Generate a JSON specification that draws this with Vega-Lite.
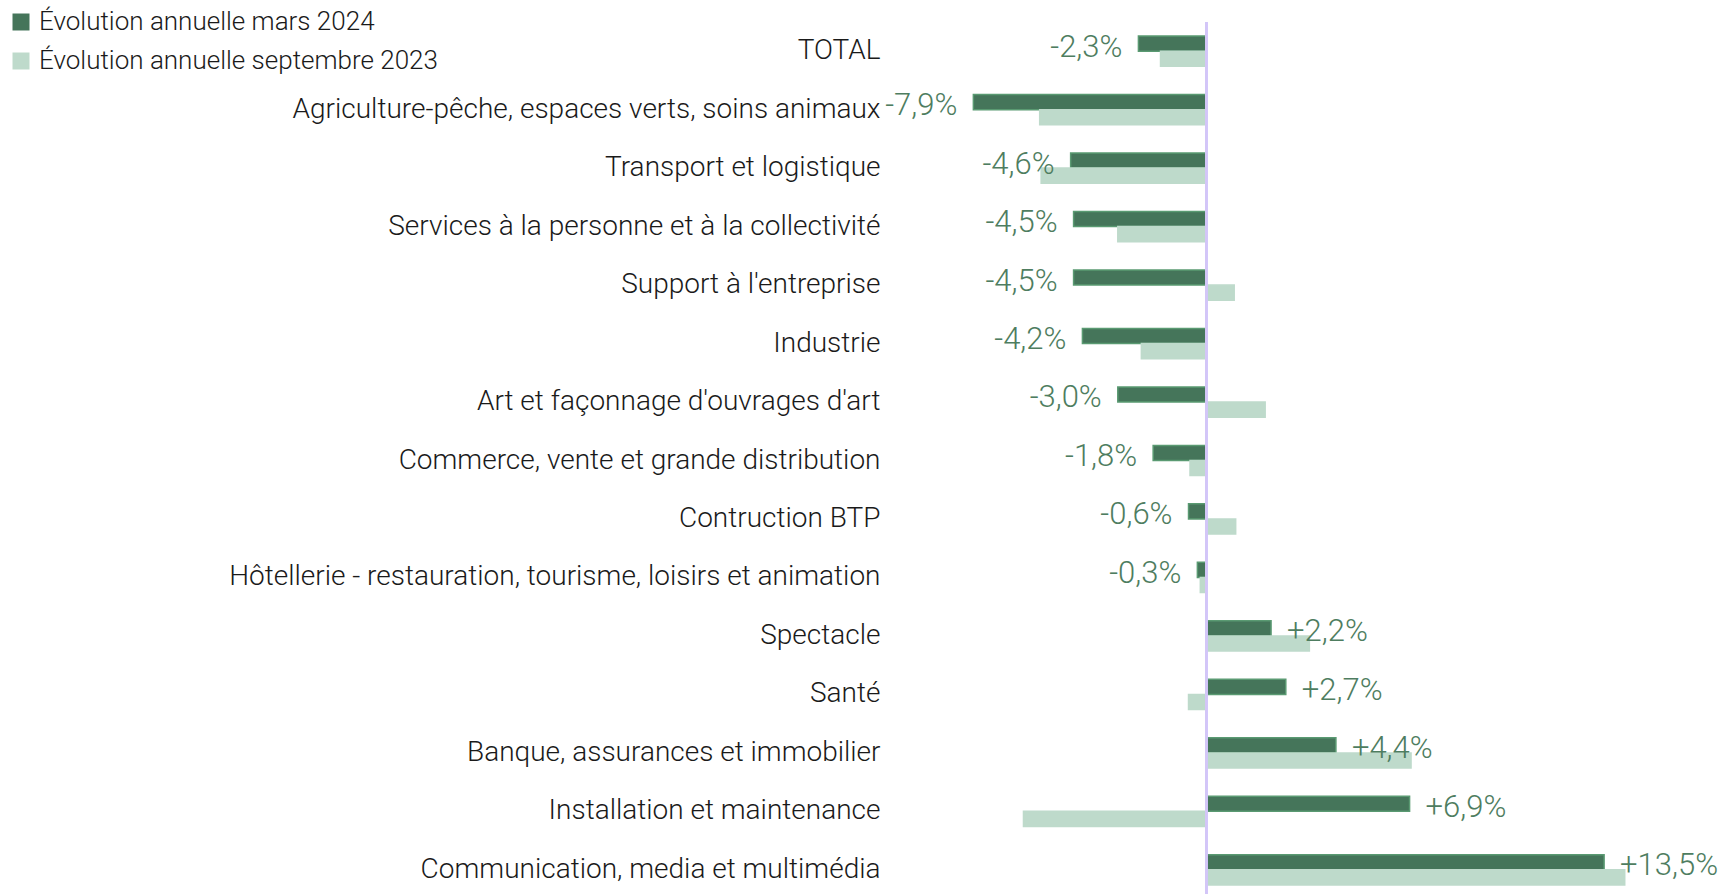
{
  "$schema": "https://vega.github.io/schema/vega-lite/v6.json",
  "autosize": {"type": "none"},
  "padding": {"left": 882, "top": 22, "right": 0, "bottom": 0},
  "width": 840,
  "height": 877,
  "background": "white",
  "config": {"view": {"stroke": null}, "font": "Roboto"},
  "data": {"values": [
    {"category": "TOTAL", "series": "Évolution annuelle mars 2024", "value": -2.3, "label": "-2,3%"},
    {"category": "TOTAL", "series": "Évolution annuelle septembre 2023", "value": -1.55, "label": ""},
    {"category": "Agriculture-pêche, espaces verts, soins animaux", "series": "Évolution annuelle mars 2024", "value": -7.9, "label": "-7,9%"},
    {"category": "Agriculture-pêche, espaces verts, soins animaux", "series": "Évolution annuelle septembre 2023", "value": -5.65, "label": ""},
    {"category": "Transport et logistique", "series": "Évolution annuelle mars 2024", "value": -4.6, "label": "-4,6%"},
    {"category": "Transport et logistique", "series": "Évolution annuelle septembre 2023", "value": -5.6, "label": ""},
    {"category": "Services à la personne et à la collectivité", "series": "Évolution annuelle mars 2024", "value": -4.5, "label": "-4,5%"},
    {"category": "Services à la personne et à la collectivité", "series": "Évolution annuelle septembre 2023", "value": -3.0, "label": ""},
    {"category": "Support à l'entreprise", "series": "Évolution annuelle mars 2024", "value": -4.5, "label": "-4,5%"},
    {"category": "Support à l'entreprise", "series": "Évolution annuelle septembre 2023", "value": 0.95, "label": ""},
    {"category": "Industrie", "series": "Évolution annuelle mars 2024", "value": -4.2, "label": "-4,2%"},
    {"category": "Industrie", "series": "Évolution annuelle septembre 2023", "value": -2.2, "label": ""},
    {"category": "Art  et façonnage d'ouvrages d'art", "series": "Évolution annuelle mars 2024", "value": -3.0, "label": "-3,0%"},
    {"category": "Art  et façonnage d'ouvrages d'art", "series": "Évolution annuelle septembre 2023", "value": 2.0, "label": ""},
    {"category": "Commerce, vente et grande distribution", "series": "Évolution annuelle mars 2024", "value": -1.8, "label": "-1,8%"},
    {"category": "Commerce, vente et grande distribution", "series": "Évolution annuelle septembre 2023", "value": -0.55, "label": ""},
    {"category": "Contruction BTP", "series": "Évolution annuelle mars 2024", "value": -0.6, "label": "-0,6%"},
    {"category": "Contruction BTP", "series": "Évolution annuelle septembre 2023", "value": 1.0, "label": ""},
    {"category": "Hôtellerie - restauration, tourisme, loisirs et animation", "series": "Évolution annuelle mars 2024", "value": -0.3, "label": "-0,3%"},
    {"category": "Hôtellerie - restauration, tourisme, loisirs et animation", "series": "Évolution annuelle septembre 2023", "value": -0.2, "label": ""},
    {"category": "Spectacle", "series": "Évolution annuelle mars 2024", "value": 2.2, "label": "+2,2%"},
    {"category": "Spectacle", "series": "Évolution annuelle septembre 2023", "value": 3.5, "label": ""},
    {"category": "Santé", "series": "Évolution annuelle mars 2024", "value": 2.7, "label": "+2,7%"},
    {"category": "Santé", "series": "Évolution annuelle septembre 2023", "value": -0.6, "label": ""},
    {"category": "Banque, assurances et immobilier", "series": "Évolution annuelle mars 2024", "value": 4.4, "label": "+4,4%"},
    {"category": "Banque, assurances et immobilier", "series": "Évolution annuelle septembre 2023", "value": 6.95, "label": ""},
    {"category": "Installation et maintenance", "series": "Évolution annuelle mars 2024", "value": 6.9, "label": "+6,9%"},
    {"category": "Installation et maintenance", "series": "Évolution annuelle septembre 2023", "value": -6.2, "label": ""},
    {"category": "Communication, media et multimédia", "series": "Évolution annuelle mars 2024", "value": 13.5, "label": "+13,5%"},
    {"category": "Communication, media et multimédia", "series": "Évolution annuelle septembre 2023", "value": 14.2, "label": ""}
  ]},
  "encoding": {
    "y": {"field": "category", "type": "nominal", "sort": null,
      "scale": {"paddingInner": 0.483, "paddingOuter": 0.24},
      "axis": {"title": null, "domain": false, "ticks": false, "labelPadding": 2, "labelFontSize": 28, "labelFont": "Roboto", "labelFontWeight": 300, "labelColor": "#1a1a1a", "labelLimit": 1000}},
    "yOffset": {"field": "series", "type": "nominal",
      "scale": {"domain": ["Évolution annuelle mars 2024", "Évolution annuelle septembre 2023"], "paddingInner": 0, "paddingOuter": 0}},
    "x": {"field": "value", "type": "quantitative", "scale": {"domain": [-11, 17.5], "nice": false, "zero": false}, "axis": null}
  },
  "layer": [
    {
      "mark": {"type": "bar", "strokeWidth": 1.5},
      "encoding": {
        "color": {"field": "series", "type": "nominal",
          "scale": {"domain": ["Évolution annuelle mars 2024", "Évolution annuelle septembre 2023"], "range": ["#45755a", "#bedacb"]},
          "legend": {"title": null, "orient": "none", "legendX": -874, "legendY": -13, "labelFontSize": 26, "labelFont": "Roboto", "labelFontWeight": 300, "labelColor": "#1a1a1a", "labelLimit": 600, "symbolType": "square", "symbolSize": 289, "rowPadding": 13, "labelOffset": 5, "symbolStrokeWidth": 0, "symbolOpacity": 1}},
        "stroke": {"field": "series", "type": "nominal",
          "scale": {"domain": ["Évolution annuelle mars 2024", "Évolution annuelle septembre 2023"], "range": ["#5a9a72", "#bedacb"]},
          "legend": null}
      }
    },
    {
      "transform": [{"filter": "datum.label != '' && datum.value < 0"}],
      "mark": {"type": "text", "align": "right", "baseline": "middle", "dx": -16, "dy": 4, "fontSize": 31, "fontWeight": 300, "font": "Roboto", "color": "#4e7d60"},
      "encoding": {"text": {"field": "label"}}
    },
    {
      "transform": [{"filter": "datum.label != '' && datum.value >= 0"}],
      "mark": {"type": "text", "align": "left", "baseline": "middle", "dx": 16, "dy": 4, "fontSize": 31, "fontWeight": 300, "font": "Roboto", "color": "#4e7d60"},
      "encoding": {"text": {"field": "label"}}
    },
    {
      "mark": {"type": "rule", "color": "#d3c6f7", "strokeWidth": 2},
      "encoding": {"x": {"datum": 0}, "y": null, "yOffset": null}
    }
  ]
}
